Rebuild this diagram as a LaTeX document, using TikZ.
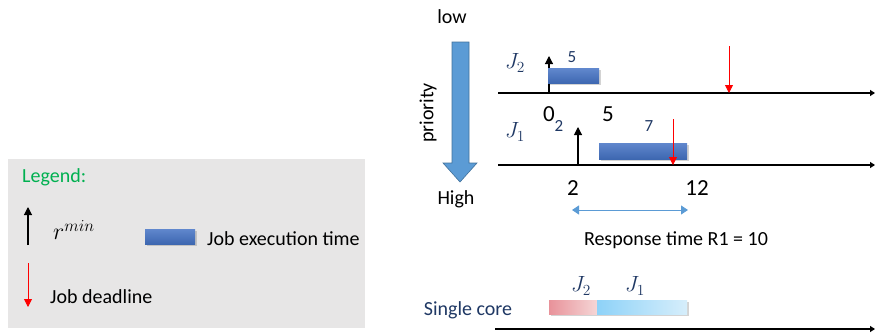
\documentclass[tikz,border=0pt]{standalone}
\usepackage{fix-cm}
\usepackage{fontspec}
\setmainfont{Carlito}
\usetikzlibrary{arrows.meta,shadows}
\definecolor{jobblue}{HTML}{4472C4}
\definecolor{prioblue}{HTML}{5B9BD5}
\definecolor{prioedge}{HTML}{41719C}
\definecolor{labelblue}{HTML}{1F3864}
\definecolor{legendgray}{HTML}{E7E6E6}
\definecolor{legendgreen}{HTML}{00B050}
\definecolor{spanblue}{HTML}{5B9BD5}
\definecolor{corered}{HTML}{E8929A}
\definecolor{coreredlt}{HTML}{F5D6D6}
\definecolor{coresky}{HTML}{8ED2F8}
\definecolor{coreskylt}{HTML}{D6EEFB}
\begin{document}
\begin{tikzpicture}[x=1pt,y=-1pt,
  txt/.style={inner sep=0pt,font=\fontsize{20}{20}\selectfont},
  tick/.style={inner sep=0pt,font=\fontsize{23}{23}\selectfont},
  joblbl/.style={inner sep=0pt,text=labelblue,font=\fontsize{22}{22}\selectfont},
  cost/.style={inner sep=0pt,text=labelblue,font=\fontsize{17}{17}\selectfont},
  jobbar/.style={draw=none,inner sep=0pt,top color=jobblue!85!white,bottom color=jobblue!90!black,
    drop shadow={opacity=0.35,shadow xshift=1.5pt,shadow yshift=-1.5pt}},
  corebar/.style={draw=none,inner sep=0pt,minimum height=14pt,
    drop shadow={opacity=0.35,shadow xshift=1.5pt,shadow yshift=-1.5pt}},
  axis/.style={line width=1.3pt,-{Triangle[width=6pt,length=5pt]}},
  release/.style={line width=1.1pt,-{Triangle[width=8pt,length=8pt]}},
  deadline/.style={red,line width=0.8pt,-{Triangle[width=8pt,length=8pt]}}]
\useasboundingbox (0,0) rectangle (875,332);
% Legend
\fill[legendgray] (8,159) rectangle (365,328);
\node[txt,text=legendgreen,anchor=west] (leg) at (22,177) {Legend:};
\coordinate (lr0) at (28,245);
\coordinate (lr1) at (28,207);
\draw[release] (lr0) -- (lr1);
\node[txt,font=\fontsize{24}{24}\selectfont] (rmin) at (74,230) {$r^{min}$};
\node[jobbar,minimum width=50pt,minimum height=15pt] (legbar) at (170,236.5) {};
\node[txt,anchor=west] (legexec) at (207,239) {Job execution time};
\coordinate (ld0) at (28,263);
\coordinate (ld1) at (28,307);
\draw[deadline] (ld0) -- (ld1);
\node[txt,anchor=west] (legdl) at (50,297) {Job deadline};
% Priority arrow
\node[txt] (low) at (452,17) {low};
\filldraw[fill=prioblue,draw=prioedge,line width=0.6pt]
  (452,42) -- (469,42) -- (469,163) -- (477,163) -- (460,182) -- (443,163) -- (452,163) -- cycle;
\node[txt,rotate=90] (prio) at (428,113) {priority};
\node[txt] (high) at (456,199) {High};
% Job J2
\coordinate (a2s) at (498,93);
\coordinate (a2e) at (875,93);
\draw[axis] (a2s) -- (a2e);
\node[joblbl] (j2) at (515,63) {$J_2$};
\coordinate (r2) at (549,93);
\coordinate (r2t) at (549,56);
\draw[release] (r2) -- (r2t);
\node[jobbar,minimum width=51pt,minimum height=15pt] (bar2) at (573.5,76) {};
\node[cost] (c2) at (572,57) {5};
\coordinate (d2) at (729,46);
\coordinate (d2e) at (729,93);
\draw[deadline] (d2) -- (d2e);
\node[tick] (t0) at (549,114) {0};
\node[tick] (t5) at (608,114) {5};
% Job J1
\coordinate (a1s) at (498,165);
\coordinate (a1e) at (875,165);
\draw[axis] (a1s) -- (a1e);
\node[joblbl] (j1) at (515,132) {$J_1$};
\node[cost] (off1) at (559,126) {2};
\coordinate (r1) at (578,165);
\coordinate (r1t) at (578,127);
\draw[release] (r1) -- (r1t);
\node[jobbar,minimum width=88pt,minimum height=16pt] (bar1) at (643,151) {};
\node[cost] (c1) at (649,126) {7};
\coordinate (d1) at (673,119);
\coordinate (d1e) at (673,165);
\draw[deadline] (d1) -- (d1e);
\node[tick] (t2) at (573,188) {2};
\node[tick] (t12) at (697,188) {12};
% Response time
\coordinate (rs) at (572,210);
\coordinate (re) at (688,210);
\draw[spanblue,line width=0.8pt,{Triangle[width=9pt,length=7pt]}-{Triangle[width=9pt,length=7pt]}] (rs) -- (re);
\node[txt] (resp) at (676,240) {Response time R1 = 10};
% Single core
\node[txt,text=labelblue] (core) at (468,310) {Single core};
\node[corebar,minimum width=48pt,left color=corered,right color=coreredlt] (cj2) at (573,307) {};
\node[corebar,minimum width=90pt,left color=coresky,right color=coreskylt] (cj1) at (642,307) {};
\node[joblbl] (cl2) at (581,286) {$J_2$};
\node[joblbl] (cl1) at (635,286) {$J_1$};
\coordinate (cs) at (495,329);
\coordinate (ce) at (875,329);
\draw[axis] (cs) -- (ce);
\end{tikzpicture}
\end{document}
